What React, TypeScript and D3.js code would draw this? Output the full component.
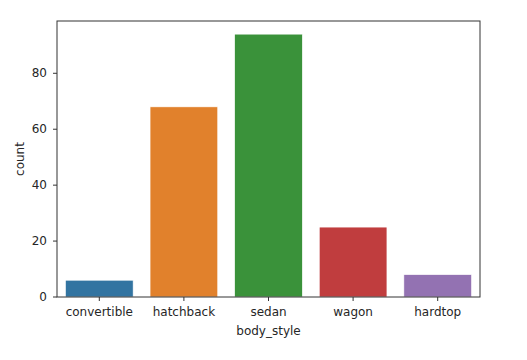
import React from "react";
import * as d3 from "d3";

const categories = ["convertible", "hatchback", "sedan", "wagon", "hardtop"];
const counts = [6, 68, 94, 25, 8];
const colors = ["#3274a1", "#e1812c", "#3a923a", "#c03d3e", "#9372b2"];
const yTicks = [0, 20, 40, 60, 80];

export default function App() {
  const W = 527, H = 360;
  const left = 57, right = 480, top = 21, bottom = 297;
  const x = d3.scaleBand<string>().domain(categories).range([left, right]).paddingInner(0).paddingOuter(0);
  const yMax = d3.max(counts)! * 1.05;
  const y = d3.scaleLinear().domain([0, yMax]).range([bottom, top]);
  const bw = x.bandwidth() * 0.8;
  const font = "'DejaVu Sans', sans-serif";
  const fs = 12;
  return (
    <svg width={W} height={H} style={{ position: "absolute", left: 0, top: 0 }}>
      <rect x={0} y={0} width={W} height={H} fill="#fff" />
      {categories.map((c, i) => (
        <rect key={c} x={x(c)! + x.bandwidth() * 0.1} y={y(counts[i])} width={bw} height={y(0) - y(counts[i])}
          fill={colors[i]} stroke="#fff" strokeWidth={0.6} />
      ))}
      <rect x={left} y={top} width={right - left} height={bottom - top} fill="none" stroke="#333" strokeWidth={1} />
      {yTicks.map(t => (
        <g key={t}>
          <line x1={left - 4} x2={left} y1={y(t)} y2={y(t)} stroke="#333" strokeWidth={1} />
          <text x={left - 10} y={y(t)} dy="0.35em" textAnchor="end" fontSize={fs} fontFamily={font} fill="#262626">{t}</text>
        </g>
      ))}
      {categories.map(c => (
        <g key={c}>
          <line x1={x(c)! + x.bandwidth() / 2} x2={x(c)! + x.bandwidth() / 2} y1={bottom} y2={bottom + 4} stroke="#333" strokeWidth={1} />
          <text x={x(c)! + x.bandwidth() / 2} y={312} dy="0.35em" textAnchor="middle" fontSize={fs} fontFamily={font} fill="#262626">{c}</text>
        </g>
      ))}
      <text x={(left + right) / 2} y={331} dy="0.35em" textAnchor="middle" fontSize={fs} fontFamily={font} fill="#262626">body_style</text>
      <text transform={`translate(20,${(top + bottom) / 2}) rotate(-90)`} dy="0.35em" textAnchor="middle" fontSize={fs} fontFamily={font} fill="#262626">count</text>
    </svg>
  );
}
